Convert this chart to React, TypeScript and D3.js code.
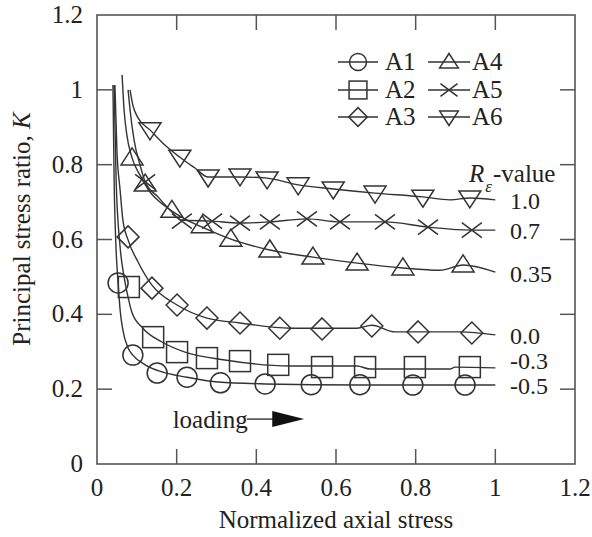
import React from "react";
import * as d3 from "d3";

// ---------- data ----------
const xTicks = [0, 0.2, 0.4, 0.6, 0.8, 1, 1.2];
const yTicks = [0, 0.2, 0.4, 0.6, 0.8, 1, 1.2];
const xTickLabels = ["0", "0.2", "0.4", "0.6", "0.8", "1", "1.2"];
const yTickLabels = ["0", "0.2", "0.4", "0.6", "0.8", "1", "1.2"];

const seriesNames = ["A1", "A2", "A3", "A4", "A5", "A6"];
const seriesShapes = ["circle", "square", "diamond", "triangle", "cross", "triangleDown"];
const rValueLabels = ["1.0", "0.7", "0.35", "0.0", "-0.3", "-0.5"];
const rValueLabelY = [0.703, 0.623, 0.508, 0.342, 0.275, 0.208];

// markers
const a1X = [0.053, 0.09, 0.151, 0.226, 0.31, 0.422, 0.538, 0.66, 0.793, 0.924];
const a1Y = [0.484, 0.291, 0.243, 0.232, 0.217, 0.214, 0.212, 0.212, 0.211, 0.211];
const a2X = [0.08, 0.141, 0.201, 0.276, 0.359, 0.455, 0.565, 0.673, 0.798, 0.936];
const a2Y = [0.473, 0.339, 0.299, 0.283, 0.275, 0.265, 0.259, 0.259, 0.259, 0.259];
const a3X = [0.078, 0.138, 0.201, 0.276, 0.359, 0.459, 0.565, 0.69, 0.806, 0.941];
const a3Y = [0.607, 0.47, 0.425, 0.39, 0.377, 0.363, 0.361, 0.369, 0.353, 0.35];
const a4X = [0.088, 0.121, 0.188, 0.264, 0.336, 0.434, 0.542, 0.653, 0.768, 0.919];
const a4Y = [0.818, 0.748, 0.678, 0.637, 0.601, 0.572, 0.553, 0.537, 0.524, 0.532];
const a5X = [0.121, 0.213, 0.289, 0.359, 0.434, 0.527, 0.61, 0.723, 0.831, 0.941];
const a5Y = [0.754, 0.649, 0.649, 0.644, 0.647, 0.655, 0.647, 0.647, 0.633, 0.625];
const a6X = [0.133, 0.208, 0.279, 0.359, 0.427, 0.505, 0.593, 0.698, 0.818, 0.936];
const a6Y = [0.893, 0.82, 0.767, 0.77, 0.762, 0.746, 0.735, 0.724, 0.713, 0.711];

// curves
const a1LineX = [0.04, 0.043, 0.048, 0.053, 0.058, 0.065, 0.078, 0.09, 0.121, 0.163, 0.226, 0.304, 0.422, 0.66, 1.0];
const a1LineY = [1.013, 0.759, 0.572, 0.484, 0.412, 0.358, 0.31, 0.291, 0.265, 0.246, 0.232, 0.219, 0.214, 0.211, 0.211];
const a2LineX = [0.043, 0.048, 0.058, 0.068, 0.078, 0.088, 0.115, 0.163, 0.221, 0.321, 0.485, 0.653, 0.685, 0.886, 0.899, 1.0];
const a2LineY = [1.013, 0.759, 0.58, 0.5, 0.446, 0.404, 0.363, 0.326, 0.299, 0.278, 0.262, 0.262, 0.254, 0.254, 0.259, 0.257];
const a3LineX = [0.045, 0.05, 0.058, 0.065, 0.078, 0.103, 0.138, 0.201, 0.276, 0.359, 0.485, 0.653, 0.69, 0.748, 0.911, 1.0];
const a3LineY = [1.013, 0.839, 0.732, 0.652, 0.599, 0.54, 0.478, 0.425, 0.39, 0.377, 0.363, 0.363, 0.371, 0.353, 0.353, 0.345];
const a4LineX = [0.063, 0.068, 0.075, 0.088, 0.108, 0.133, 0.158, 0.188, 0.226, 0.264, 0.336, 0.434, 0.542, 0.653, 0.768, 0.861, 0.919, 1.0];
const a4LineY = [1.04, 0.946, 0.879, 0.818, 0.772, 0.727, 0.7, 0.676, 0.652, 0.633, 0.601, 0.572, 0.553, 0.537, 0.524, 0.518, 0.532, 0.513];
const a5LineX = [0.078, 0.083, 0.093, 0.108, 0.121, 0.153, 0.183, 0.213, 0.289, 0.359, 0.434, 0.527, 0.61, 0.723, 0.831, 0.941, 1.0];
const a5LineY = [1.0, 0.946, 0.866, 0.799, 0.754, 0.714, 0.679, 0.652, 0.649, 0.644, 0.647, 0.655, 0.647, 0.647, 0.633, 0.625, 0.625];
const a6LineX = [0.083, 0.09, 0.103, 0.133, 0.171, 0.208, 0.246, 0.279, 0.359, 0.427, 0.505, 0.593, 0.698, 0.818, 0.886, 0.936, 1.0];
const a6LineY = [1.0, 0.959, 0.925, 0.893, 0.852, 0.82, 0.791, 0.767, 0.767, 0.764, 0.746, 0.735, 0.724, 0.714, 0.706, 0.711, 0.706];

const markerXs = [a1X, a2X, a3X, a4X, a5X, a6X];
const markerYs = [a1Y, a2Y, a3Y, a4Y, a5Y, a6Y];
const lineXs = [a1LineX, a2LineX, a3LineX, a4LineX, a5LineX, a6LineX];
const lineYs = [a1LineY, a2LineY, a3LineY, a4LineY, a5LineY, a6LineY];

// annotation
const loadingLabel = "loading";
const loadingPos = { x: 0.19, y: 0.12 };
const arrowX = [0.376, 0.445, 0.52];

// ---------- layout ----------
const W = 592;
const H = 537;
const left = 97;
const right = 575;
const top = 15;
const bottom = 464;
const FONT = '"Liberation Serif", Tinos, "Times New Roman", Times, serif';
const INK = "#333";
const TXT = "#222";
const FS = 25;

function Marker({ shape, x, y, s = 1 }: { shape: string; x: number; y: number; s?: number }) {
  const common = { fill: "none", stroke: INK, strokeWidth: 1.5 };
  if (shape === "circle") return <circle cx={x} cy={y} r={10 * s} {...common} />;
  if (shape === "square")
    return <rect x={x - 10.5 * s} y={y - 10.5 * s} width={21 * s} height={21 * s} {...common} />;
  if (shape === "diamond") {
    const r = 11 * s;
    return <path d={`M${x},${y - r}L${x + r},${y}L${x},${y + r}L${x - r},${y}Z`} {...common} />;
  }
  if (shape === "triangle") {
    return (
      <path
        d={`M${x},${y - 10 * s}L${x + 11 * s},${y + 7 * s}L${x - 11 * s},${y + 7 * s}Z`}
        {...common}
      />
    );
  }
  if (shape === "triangleDown") {
    return (
      <path
        d={`M${x},${y + 10 * s}L${x + 11 * s},${y - 7 * s}L${x - 11 * s},${y - 7 * s}Z`}
        {...common}
      />
    );
  }
  const r = 10 * s;
  return (
    <path
      d={`M${x - r},${y - r * 0.75}L${x + r},${y + r * 0.75}M${x - r},${y + r * 0.75}L${x + r},${y - r * 0.75}`}
      {...common}
    />
  );
}

export default function App() {
  const xs = d3.scaleLinear().domain([0, 1.2]).range([left, right]);
  const ys = d3.scaleLinear().domain([0, 1.2]).range([bottom, top]);
  const line = d3
    .line<[number, number]>()
    .x((d) => xs(d[0]))
    .y((d) => ys(d[1]))
    .curve(d3.curveMonotoneX);

  const tickLen = 15;
  const legendRows = [62, 90, 117];
  const legendCols = [
    { cx: 358, x1: 338, x2: 378, tx: 385 },
    { cx: 449, x1: 428, x2: 470, tx: 472 },
  ];

  return (
    <svg
      width={W}
      height={H}
      style={{ position: "absolute", left: 0, top: 0, background: "#fff", fontFamily: FONT }}
    >
      <rect x={0} y={0} width={W} height={H} fill="#fff" />
      {/* curves */}
      {lineXs.map((lx, i) => (
        <path
          key={"l" + i}
          d={line(lx.map((v, j) => [v, lineYs[i][j]] as [number, number])) || ""}
          fill="none"
          stroke={INK}
          strokeWidth={1.4}
        />
      ))}
      {/* markers */}
      {markerXs.map((mx, i) =>
        mx.map((v, j) => (
          <Marker key={`m${i}-${j}`} shape={seriesShapes[i]} x={xs(v)} y={ys(markerYs[i][j])} />
        ))
      )}
      {/* frame */}
      <rect x={left} y={top} width={right - left} height={bottom - top} fill="none" stroke="#555" strokeWidth={1.6} />
      {xTicks.slice(1, -1).map((t) => (
        <g key={"xt" + t}>
          <line x1={xs(t)} x2={xs(t)} y1={bottom} y2={bottom - tickLen} stroke="#555" strokeWidth={1.5} />
          <line x1={xs(t)} x2={xs(t)} y1={top} y2={top + tickLen} stroke="#555" strokeWidth={1.5} />
        </g>
      ))}
      {yTicks.slice(1, -1).map((t) => (
        <g key={"yt" + t}>
          <line x1={left} x2={left + tickLen} y1={ys(t)} y2={ys(t)} stroke="#555" strokeWidth={1.5} />
          <line x1={right} x2={right - tickLen} y1={ys(t)} y2={ys(t)} stroke="#555" strokeWidth={1.5} />
        </g>
      ))}
      {xTicks.map((t, i) => (
        <text key={"xl" + i} x={xs(t)} y={bottom + 32} fontSize={FS} textAnchor="middle" fill={TXT}>
          {xTickLabels[i]}
        </text>
      ))}
      {yTicks.map((t, i) => (
        <text key={"yl" + i} x={left - 14} y={ys(t) + 8} fontSize={FS} textAnchor="end" fill={TXT}>
          {yTickLabels[i]}
        </text>
      ))}
      {/* axis titles */}
      <text x={(left + right) / 2} y={528} fontSize={FS} textAnchor="middle" fill={TXT}>
        Normalized axial stress
      </text>
      <text transform="translate(30,229) rotate(-90)" fontSize={FS} textAnchor="middle" fill={TXT}>
        Principal stress ratio, <tspan fontStyle="italic">K</tspan>
      </text>
      {/* legend */}
      {seriesNames.map((name, i) => {
        const col = legendCols[Math.floor(i / 3)];
        const y = legendRows[i % 3];
        return (
          <g key={"lg" + i}>
            <line x1={col.x1} x2={col.x2} y1={y} y2={y} stroke={INK} strokeWidth={1.4} />
            <Marker shape={seriesShapes[i]} x={col.cx} y={y} s={0.85} />
            <text x={col.tx} y={y + 8} fontSize={FS} fill={TXT}>
              {name}
            </text>
          </g>
        );
      })}
      {/* R-value heading */}
      <text x={469} y={182} fontSize={FS} fill={TXT}>
        <tspan fontStyle="italic">R</tspan>
        <tspan fontStyle="italic" fontSize={17} dy={10} dx={1}>
          ε
        </tspan>
        <tspan dy={-10} dx={1}>
          -value
        </tspan>
      </text>
      {rValueLabels.map((lab, i) => (
        <text key={"rv" + i} x={510} y={ys(rValueLabelY[i]) + 8} fontSize={24} fill={TXT}>
          {lab}
        </text>
      ))}
      {/* loading arrow */}
      <text x={xs(loadingPos.x)} y={ys(loadingPos.y) + 9} fontSize={FS} fill={TXT}>
        {loadingLabel}
      </text>
      <line
        x1={xs(arrowX[0])}
        x2={xs(arrowX[1])}
        y1={ys(loadingPos.y)}
        y2={ys(loadingPos.y)}
        stroke={INK}
        strokeWidth={1.4}
      />
      <path
        d={`M${xs(arrowX[1]) - 2},${ys(loadingPos.y) - 8}L${xs(arrowX[2])},${ys(loadingPos.y)}L${xs(arrowX[1]) - 2},${ys(loadingPos.y) + 8}Z`}
        fill="#111"
      />
    </svg>
  );
}
